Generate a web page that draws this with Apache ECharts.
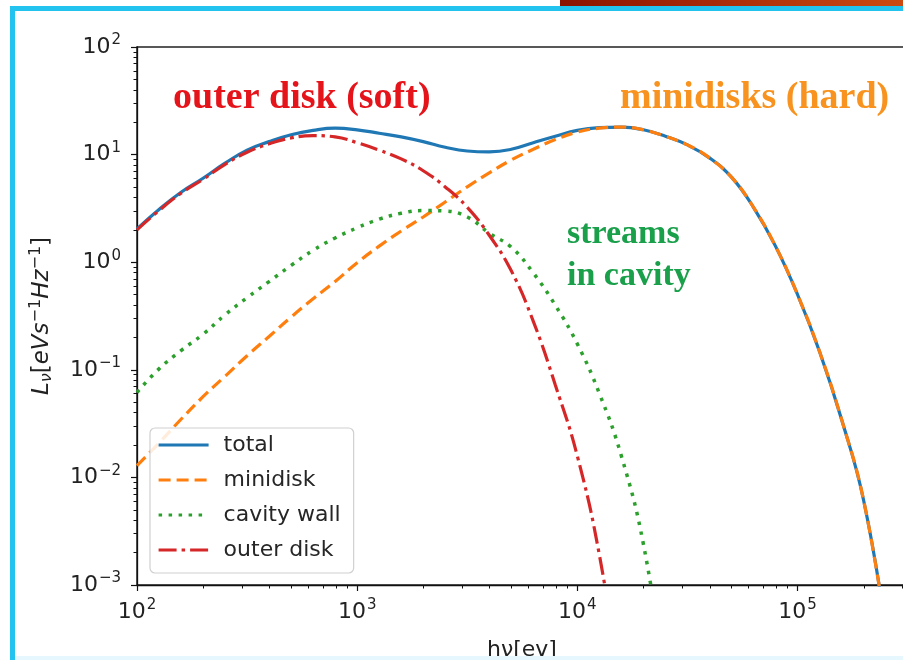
<!DOCTYPE html>
<html>
<head>
<meta charset="utf-8">
<script src="https://cdn.jsdelivr.net/npm/echarts@6/dist/echarts.min.js"></script>
<style>
html,body{margin:0;padding:0;background:#fff;}
#c{width:903px;height:660px;}
</style>
</head>
<body>
<div id="c"></div>
<script>
// photon energy h*nu [eV]
const energy = [100, 125.9, 158.5, 199.5, 251.2, 316.2, 398.1, 501.2, 631.0, 794.3,
  1000, 1259, 1585, 1995, 2512, 3162, 3981, 5012, 6310, 7943,
  10000, 12589, 15849, 19953, 25119, 31623, 39811, 50119, 63096, 79433,
  100000, 125893, 158489, 199526, 251189];

const total = [2.04, 3.09, 4.47, 6.03, 8.32, 11.0, 13.2, 15.3, 16.8, 17.6,
  17.0, 15.8, 14.6, 13.2, 11.7, 10.8, 10.6, 11.2, 12.9, 14.8,
  16.8, 17.8, 18.0, 17.0, 14.8, 12.3, 9.33, 6.17, 3.24, 1.41,
  0.501, 0.148, 0.0347, 0.00617, 0.000398];

const minidisk = [0.0129, 0.0209, 0.0347, 0.0562, 0.0871, 0.135, 0.204, 0.309, 0.457, 0.661,
  0.989, 1.41, 1.95, 2.63, 3.63, 5.01, 6.76, 8.91, 11.2, 13.8,
  16.2, 17.6, 18.0, 17.0, 14.8, 12.3, 9.33, 6.17, 3.24, 1.41,
  0.501, 0.148, 0.0347, 0.00617, 0.000398];

const cavityWall = [0.0617, 0.102, 0.151, 0.214, 0.324, 0.468, 0.661, 0.933, 1.29, 1.68,
  2.09, 2.51, 2.85, 3.02, 2.99, 2.63, 1.86, 1.38, 0.794, 0.398,
  0.174, 0.0603, 0.0158, 0.0024, 0.000126, null, null, null, null, null,
  null, null, null, null, null];

const outerDisk = [2.00, 3.02, 4.37, 5.89, 8.13, 10.5, 12.6, 14.3, 15.0, 14.6,
  12.9, 11.0, 9.12, 7.08, 5.01, 3.24, 1.78, 0.832, 0.282, 0.0724,
  0.0158, 0.00191, 0.0001, null, null, null, null, null, null, null,
  null, null, null, null, null];

const xMajorTicks = [100, 1000, 10000, 100000];
const xMinorTicks = [200,300,400,500,600,700,800,900,2000,3000,4000,5000,6000,7000,8000,9000,
  20000,30000,40000,50000,60000,70000,80000,90000,200000,300000];
const yMajorTicks = [0.001, 0.01, 0.1, 1, 10, 100];
const yMinorTicks = [];
[0.001, 0.01, 0.1, 1, 10].forEach(d => { for (let k = 2; k <= 9; k++) yMinorTicks.push(+(d * k).toPrecision(3)); });

const seriesNames = ['total', 'minidisk', 'cavity wall', 'outer disk'];
const colors = ['#1f77b4', '#ff7f0e', '#2ca02c', '#d62728'];

function pairs(vals) { return energy.map((e, i) => [e, vals[i]]); }

function powLabel(v) {
  const e = Math.round(Math.log10(v));
  const s = e < 0 ? '\u2212' + Math.abs(e) : String(e);
  return '{b|10}{s|' + s + '}';
}
const tickRich = {
  b: { fontSize: 22, fontFamily: 'DejaVu Sans', color: '#222' },
  s: { fontSize: 15, fontFamily: 'DejaVu Sans', color: '#222', padding: [0, 0, 13, 1] }
};

const chart = echarts.init(document.getElementById('c'), null, { renderer: 'canvas' });

const lineBase = { type: 'line', symbol: 'none', smooth: 0.45, xAxisIndex: 0, yAxisIndex: 0, connectNulls: false };

chart.setOption({
  backgroundColor: '#ffffff',
  animation: false,
  grid: { left: 137, width: 786, top: 47, height: 538, outerBoundsMode: 'none', containLabel: false,
    show: true, borderColor: '#222', borderWidth: 1.5, backgroundColor: 'transparent' },
  xAxis: [
    {
      type: 'log', logBase: 10, min: 100, max: 371535, position: 'bottom',
      axisLine: { show: true, lineStyle: { color: '#111', width: 1.3 } },
      axisTick: { show: true, length: 6, lineStyle: { color: '#111', width: 1.2 }, customValues: xMajorTicks },
      axisLabel: { show: true, margin: 13, customValues: xMajorTicks, formatter: powLabel, rich: tickRich },
      splitLine: { show: false }, minorTick: { show: false }
    },
    {
      type: 'log', logBase: 10, min: 100, max: 371535, position: 'bottom',
      axisLine: { show: false },
      axisTick: { show: true, length: 3.5, lineStyle: { color: '#111', width: 1 }, customValues: xMinorTicks },
      axisLabel: { show: false }, splitLine: { show: false }
    }
  ],
  yAxis: [
    {
      type: 'log', logBase: 10, min: 0.001, max: 100, position: 'left',
      axisLine: { show: true, lineStyle: { color: '#111', width: 1.3 } },
      axisTick: { show: true, length: 6, lineStyle: { color: '#111', width: 1.2 }, customValues: yMajorTicks },
      axisLabel: { show: true, margin: 16, customValues: yMajorTicks, formatter: powLabel, rich: tickRich },
      splitLine: { show: false },
      name: '{i|L}{sub|\u03bd}{n|[}{i|eVs}{sup|\u22121}{i|Hz}{sup|\u22121}{n|]}',
      nameLocation: 'middle', nameRotate: 90, nameGap: 80,
      nameTextStyle: {
        rich: {
          i: { fontSize: 23, fontFamily: 'DejaVu Sans', fontStyle: 'italic', color: '#222' },
          n: { fontSize: 23, fontFamily: 'DejaVu Sans', color: '#222' },
          sub: { fontSize: 16, fontFamily: 'DejaVu Sans', fontStyle: 'italic', color: '#222', padding: [9, 0, 0, 0] },
          sup: { fontSize: 16, fontFamily: 'DejaVu Sans', color: '#222', padding: [0, 0, 13, 0] }
        }
      }
    },
    {
      type: 'log', logBase: 10, min: 0.001, max: 100, position: 'left',
      axisLine: { show: false },
      axisTick: { show: true, length: 3.5, lineStyle: { color: '#111', width: 1 }, customValues: yMinorTicks },
      axisLabel: { show: false }, splitLine: { show: false }
    }
  ],
  legend: {
    orient: 'vertical', left: 150, top: 428,
    data: seriesNames,
    itemWidth: 50, itemHeight: 14, itemGap: 13,
    padding: [6, 13, 12, 7],
    itemStyle: { opacity: 0 },
    lineStyle: { width: 3.2 },
    backgroundColor: 'rgba(255,255,255,0.85)', borderColor: '#d0d0d0', borderWidth: 1.2, borderRadius: 5,
    textStyle: { fontSize: 22, fontFamily: 'DejaVu Sans', color: '#262626', lineHeight: 22, padding: [0, 0, 0, 10] }
  },
  series: [
    Object.assign({}, lineBase, { name: 'total', data: pairs(total), z: 2,
      lineStyle: { color: colors[0], width: 3.2, type: 'solid' }, itemStyle: { color: colors[0] } }),
    Object.assign({}, lineBase, { name: 'minidisk', data: pairs(minidisk), z: 3,
      lineStyle: { color: colors[1], width: 3.2, type: [12, 6], cap: 'butt' }, itemStyle: { color: colors[1] } }),
    Object.assign({}, lineBase, { name: 'cavity wall', data: pairs(cavityWall), z: 4,
      lineStyle: { color: colors[2], width: 3.5, type: [3.5, 6.5], cap: 'butt' }, itemStyle: { color: colors[2] } }),
    Object.assign({}, lineBase, { name: 'outer disk', data: pairs(outerDisk), z: 5,
      lineStyle: { color: colors[3], width: 3.2, type: [18, 5, 3.5, 5], cap: 'butt' }, itemStyle: { color: colors[3] } })
  ],
  graphic: [
    { type: 'rect', left: 560, top: 0, z: 100, shape: { width: 343, height: 7 },
      style: { fill: new echarts.graphic.LinearGradient(0, 0, 1, 0, [{ offset: 0, color: '#8a1200' }, { offset: 1, color: '#cc4a12' }]) } },
    { type: 'rect', left: 10, top: 6, z: 100, shape: { width: 893, height: 5 }, style: { fill: '#22c3ef' } },
    { type: 'rect', left: 10, top: 6, z: 100, shape: { width: 5, height: 654 }, style: { fill: '#22c3ef' } },
    { type: 'rect', left: 15, top: 656, z: 100, shape: { width: 888, height: 4 }, style: { fill: '#e6f8fd' } },
    { type: 'text', x: 173, y: 98, z: 50,
      style: { text: 'outer disk (soft)', fill: '#e5141b', font: 'bold 38px "Liberation Serif"', verticalAlign: 'middle' } },
    { type: 'text', x: 620, y: 98, z: 50,
      style: { text: 'minidisks (hard)', fill: '#f7931e', font: 'bold 38px "Liberation Serif"', verticalAlign: 'middle' } },
    { type: 'text', x: 567, y: 234, z: 50,
      style: { text: 'streams', fill: '#1a9f4b', font: 'bold 34px "Liberation Serif"', verticalAlign: 'middle' } },
    { type: 'text', x: 567, y: 276, z: 50,
      style: { text: 'in cavity', fill: '#1a9f4b', font: 'bold 34px "Liberation Serif"', verticalAlign: 'middle' } },
    { type: 'text', x: 487, y: 639, z: 50,
      style: { text: 'h\u03bd[ev]', fill: '#222', font: '22px "DejaVu Sans"' } }
  ]
});
</script>
</body>
</html>
